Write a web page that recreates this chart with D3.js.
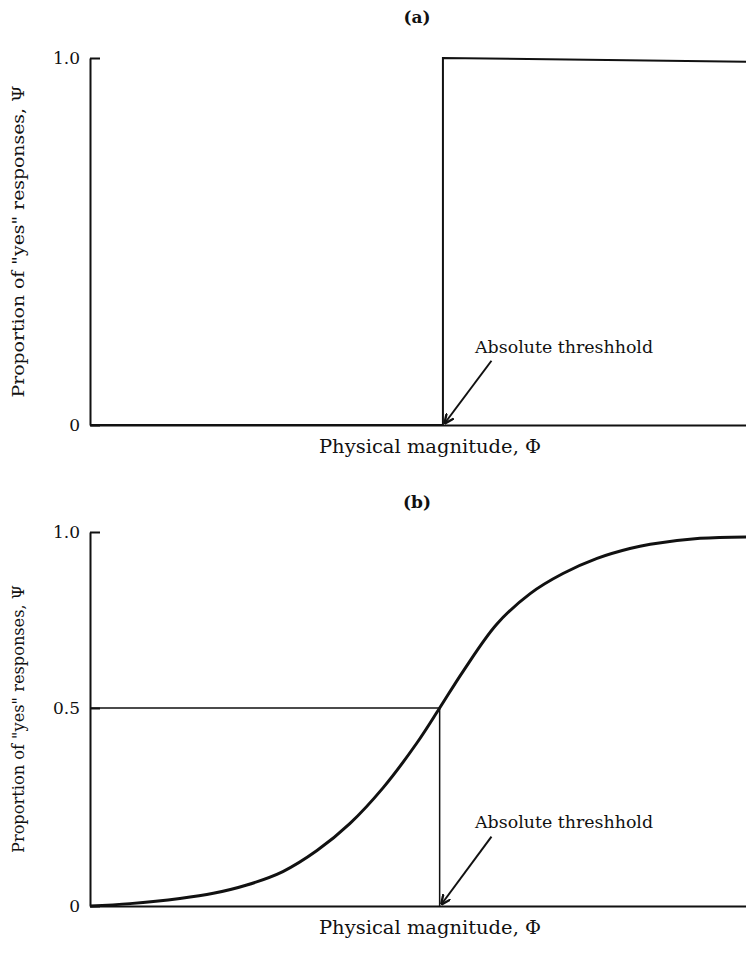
<!DOCTYPE html>
<html>
<head>
<meta charset="utf-8">
<script src="https://cdn.jsdelivr.net/npm/d3@7"></script>
<style>
  body { margin: 0; background: #fff; }
  text { font-family: "DejaVu Serif", "Liberation Serif", serif; fill: #111; }
</style>
</head>
<body>
<svg></svg>
<script>
// values
var titles = ["(a)", "(b)"];
var yTicksA = [0, 1];
var yTicksB = [0, 0.5, 1];
var yLabel = "Proportion of \"yes\" responses, \u03A8";
var xLabel = "Physical magnitude, \u03A6";
var noteText = "Absolute threshhold";

// panel (a): step function
var thresholdA = 53.8;
var stepX = [0, thresholdA, thresholdA, 100];
var stepY = [0, 0, 1, 0.99];

// panel (b): psychometric curve
var thresholdB = 53.3;
var curveX = [0, 6.1, 13.7, 18.8, 23.9, 29.4, 34.6, 39.6, 44.7, 49.8, 53.3, 56.9, 62.0, 67.1, 72.1, 77.3, 82.3, 85.4, 93.0, 100];
var curveY = [0, 0.006, 0.019, 0.032, 0.053, 0.087, 0.14, 0.208, 0.299, 0.411, 0.5, 0.605, 0.738, 0.825, 0.882, 0.925, 0.953, 0.965, 0.982, 0.986];

var screen = {width: 746, height: 954};
var svg = d3.select("svg").attr("width", screen.width).attr("height", screen.height);

var x = d3.scaleLinear().domain([0, 100]).range([90, 746]);
var yA = d3.scaleLinear().domain([0, 1]).range([425, 58]);
var yB = d3.scaleLinear().domain([0, 0.5, 1]).range([906, 708, 532]);

var fmt = function(d){ return d === 0 ? "0" : d3.format(".1f")(d); };

// arrow head
svg.append("defs").append("marker")
    .attr("id", "head")
    .attr("viewBox", "0 0 10 10")
    .attr("refX", 9).attr("refY", 5)
    .attr("markerWidth", 10).attr("markerHeight", 10)
    .attr("markerUnits", "userSpaceOnUse")
    .attr("orient", "auto")
    .append("path")
    .attr("d", "M0,0.5 L10,5 L0,9.5")
    .attr("fill", "none")
    .attr("stroke", "#111")
    .attr("stroke-width", 2.4);

var drawPanel = function(y, ticks, title, titleY, labelLen)
{
    var g = svg.append("g");

    g.append("g")
        .attr("transform", "translate(0," + y(0) + ")")
        .call(d3.axisBottom(x).tickValues([]).tickSizeOuter(0))
        .call(function(a){ a.select(".domain").attr("stroke", "#111").attr("stroke-width", 2); });

    g.append("g")
        .attr("transform", "translate(" + x(0) + ",0)")
        .call(d3.axisLeft(y).tickValues(ticks).tickFormat(fmt).tickSizeInner(-10).tickSizeOuter(0).tickPadding(10))
        .call(function(a){
            a.select(".domain").attr("stroke", "#111").attr("stroke-width", 2);
            a.selectAll(".tick line").attr("stroke", "#111").attr("stroke-width", 2);
            a.selectAll(".tick text").attr("font-size", 17).attr("font-family", "DejaVu Serif").attr("fill", "#111");
        });

    g.append("text")
        .attr("x", 417).attr("y", titleY)
        .attr("text-anchor", "middle")
        .attr("font-size", 17).attr("font-weight", "bold")
        .text(title);

    g.append("text")
        .attr("x", 430).attr("y", y(0) + 28)
        .attr("text-anchor", "middle")
        .attr("font-size", 19)
        .attr("textLength", 222)
        .attr("lengthAdjust", "spacingAndGlyphs")
        .text(xLabel);

    var mid = (y(0) + y(1)) / 2;
    g.append("text")
        .attr("transform", "translate(24," + mid + ") rotate(-90)")
        .attr("text-anchor", "middle")
        .attr("font-size", 17)
        .attr("textLength", labelLen)
        .attr("lengthAdjust", "spacingAndGlyphs")
        .text(yLabel);

    return g;
}

var drawNote = function(g, y, tx)
{
    g.append("line")
        .attr("x1", x(61.2)).attr("y1", y(0.175))
        .attr("x2", x(tx) + 2).attr("y2", y(0) - 2)
        .attr("stroke", "#111").attr("stroke-width", 2)
        .attr("marker-end", "url(#head)");

    g.append("text")
        .attr("x", x(58.7)).attr("y", y(0.196))
        .attr("font-size", 17)
        .attr("textLength", 178)
        .attr("lengthAdjust", "spacingAndGlyphs")
        .text(noteText);
}

// (a)
var ga = drawPanel(yA, yTicksA, titles[0], 23, 312);
var stepLine = d3.line()
    .x(function(d, i){ return x(stepX[i]); })
    .y(function(d, i){ return yA(stepY[i]); });
ga.append("path")
    .attr("d", stepLine(stepX))
    .attr("fill", "none")
    .attr("stroke", "#111")
    .attr("stroke-width", 2);
drawNote(ga, yA, thresholdA);

// (b)
var gb = drawPanel(yB, yTicksB, titles[1], 508, 268);
gb.append("path")
    .attr("d", d3.line()([[x(0), yB(0.5)], [x(thresholdB), yB(0.5)], [x(thresholdB), yB(0)]]))
    .attr("fill", "none")
    .attr("stroke", "#111")
    .attr("stroke-width", 1.5);

var curveLine = d3.line()
    .x(function(d, i){ return x(curveX[i]); })
    .y(function(d, i){ return yB(curveY[i]); })
    .curve(d3.curveCatmullRom.alpha(0.5));
gb.append("path")
    .attr("d", curveLine(curveX))
    .attr("fill", "none")
    .attr("stroke", "#111")
    .attr("stroke-width", 3);
drawNote(gb, yB, thresholdB);
</script>
</body>
</html>
